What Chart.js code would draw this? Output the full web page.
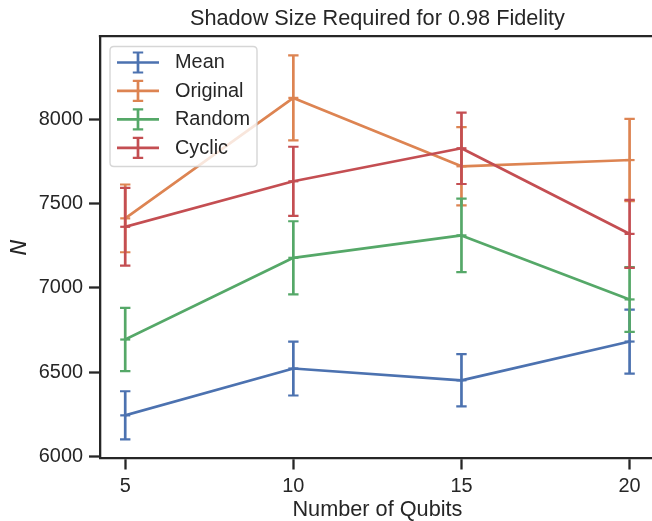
<!DOCTYPE html>
<html>
<head>
<meta charset="utf-8">
<script src="https://cdn.jsdelivr.net/npm/chart.js@4/dist/chart.umd.min.js"></script>
<style>
  html, body { margin: 0; padding: 0; background: #ffffff; overflow: hidden; }
  #clip { width: 652px; height: 521px; overflow: hidden; position: relative; }
  #wrap { width: 662px; height: 521px; position: relative; }
</style>
</head>
<body>
<div id="clip"><div id="wrap"><canvas id="c"></canvas></div></div>
<script>
// ---- data ----
const qubits = [5, 10, 15, 20];
const meanVals = [6243, 6521, 6451, 6681];
const meanErr = [143, 160, 155, 190];
const originalVals = [7412, 8127, 7721, 7758];
const originalErr = [201, 252, 232, 244];
const randomVals = [6693, 7178, 7311, 6931];
const randomErr = [188, 217, 218, 192];
const cyclicVals = [7362, 7632, 7828, 7320];
const cyclicErr = [231, 205, 212, 202];
const seriesNames = ['Mean', 'Original', 'Random', 'Cyclic'];
const xTicks = [5, 10, 15, 20];
const yTicks = [6000, 6500, 7000, 7500, 8000];

const colors = ['#4c72b0', '#dd8452', '#55a868', '#c44e52'];
const textColor = '#262626';
const FONT = "'Liberation Sans', Arial, sans-serif";

function makeSet(i, vals, errs) {
  return {
    label: seriesNames[i],
    data: qubits.map((q, j) => ({ x: q, y: vals[j] })),
    errors: errs,
    borderColor: colors[i],
    backgroundColor: colors[i],
    borderWidth: 2.7,
    borderJoinStyle: 'round',
    borderCapStyle: 'square',
    pointStyle: 'line',
    pointRadius: 5,
    pointBorderWidth: 2.2,
    pointBorderColor: colors[i],
    pointHoverRadius: 5,
    tension: 0,
    fill: false,
    order: 4 - i,
    clip: false
  };
}

const errorBars = {
  id: 'errorBars',
  afterDatasetDraw(chart, args) {
    const ds = chart.data.datasets[args.index];
    const ys = chart.scales.y;
    const ctx = chart.ctx;
    ctx.save();
    ctx.strokeStyle = ds.borderColor;
    args.meta.data.forEach((pt, j) => {
      const v = ds.data[j].y, e = ds.errors[j];
      const yt = ys.getPixelForValue(v + e);
      const yb = ys.getPixelForValue(v - e);
      ctx.lineWidth = 2.7;
      ctx.lineCap = 'butt';
      ctx.beginPath();
      ctx.moveTo(pt.x, yt); ctx.lineTo(pt.x, yb);
      ctx.stroke();
      ctx.lineWidth = 2.2;
      ctx.beginPath();
      ctx.moveTo(pt.x - 5.2, yt); ctx.lineTo(pt.x + 5.2, yt);
      ctx.moveTo(pt.x - 5.2, yb); ctx.lineTo(pt.x + 5.2, yb);
      ctx.stroke();
    });
    ctx.restore();
  }
};

const frameAndLegend = {
  id: 'frameAndLegend',
  afterDraw(chart) {
    const ctx = chart.ctx;
    const a = chart.chartArea;
    ctx.save();
    // top spine (right spine falls outside the visible picture)
    ctx.strokeStyle = textColor;
    ctx.lineWidth = 2.3;
    ctx.beginPath();
    ctx.moveTo(a.left - 1.15, a.top);
    ctx.lineTo(a.right, a.top);
    ctx.stroke();

    // legend box
    const bx = 110, by = 46.5, bw = 147, bh = 120, r = 4;
    ctx.beginPath();
    ctx.moveTo(bx + r, by);
    ctx.lineTo(bx + bw - r, by);
    ctx.quadraticCurveTo(bx + bw, by, bx + bw, by + r);
    ctx.lineTo(bx + bw, by + bh - r);
    ctx.quadraticCurveTo(bx + bw, by + bh, bx + bw - r, by + bh);
    ctx.lineTo(bx + r, by + bh);
    ctx.quadraticCurveTo(bx, by + bh, bx, by + bh - r);
    ctx.lineTo(bx, by + r);
    ctx.quadraticCurveTo(bx, by, bx + r, by);
    ctx.closePath();
    ctx.fillStyle = 'rgba(255,255,255,0.8)';
    ctx.fill();
    ctx.strokeStyle = 'rgba(204,204,204,0.8)';
    ctx.lineWidth = 1.4;
    ctx.stroke();

    chart.data.datasets.forEach((ds, i) => {
      const y = 62.5 + i * 28.45;
      ctx.strokeStyle = ds.borderColor;
      ctx.lineWidth = 2.7;
      ctx.lineCap = 'butt';
      ctx.beginPath();
      ctx.moveTo(117, y); ctx.lineTo(159, y);
      ctx.moveTo(138, y - 10); ctx.lineTo(138, y + 10);
      ctx.stroke();
      ctx.lineWidth = 2.2;
      ctx.beginPath();
      ctx.moveTo(132.8, y - 10); ctx.lineTo(143.2, y - 10);
      ctx.moveTo(132.8, y + 10); ctx.lineTo(143.2, y + 10);
      ctx.stroke();
      ctx.fillStyle = textColor;
      ctx.font = '19.9px ' + FONT;
      ctx.textBaseline = 'middle';
      ctx.textAlign = 'left';
      ctx.fillText(ds.label, 175, y + 0.5);
    });
    ctx.restore();
  }
};

new Chart(document.getElementById('c'), {
  type: 'line',
  data: {
    datasets: [
      makeSet(0, meanVals, meanErr),
      makeSet(1, originalVals, originalErr),
      makeSet(2, randomVals, randomErr),
      makeSet(3, cyclicVals, cyclicErr)
    ]
  },
  options: {
    responsive: true,
    maintainAspectRatio: false,
    animation: false,
    devicePixelRatio: 1,
    layout: { padding: { left: 0, right: 0, top: 0, bottom: 0 } },
    plugins: {
      legend: { display: false },
      tooltip: { enabled: false },
      title: {
        display: true,
        fullSize: false,
        text: 'Shadow Size Required for 0.98 Fidelity',
        color: textColor,
        font: { family: FONT, size: 21.7, weight: 'normal', lineHeight: 1.2 },
        padding: { top: 6, bottom: 4 }
      }
    },
    scales: {
      x: {
        type: 'linear',
        min: 4.25,
        max: 20.75,
        afterBuildTicks(s) { s.ticks = xTicks.map(v => ({ value: v })); },
        afterFit(s) { s.height = 62.5; },
        grid: { drawOnChartArea: false, drawTicks: true, tickLength: 11, tickWidth: 2.3, tickColor: textColor },
        border: { display: true, color: textColor, width: 2.3 },
        ticks: { color: textColor, font: { family: FONT, size: 19.9 }, padding: 5, maxRotation: 0, autoSkip: false,
                 callback: v => String(v) },
        title: {
          display: true,
          text: 'Number of Qubits',
          color: textColor,
          font: { family: FONT, size: 21.7, lineHeight: 1 },
          padding: { top: 0, bottom: 0 }
        }
      },
      y: {
        type: 'linear',
        min: 5987,
        max: 8494,
        afterBuildTicks(s) { s.ticks = yTicks.map(v => ({ value: v })); },
        afterFit(s) { s.width = 100; },
        grid: { drawOnChartArea: false, drawTicks: true, tickLength: 11, tickWidth: 2.3, tickColor: textColor },
        border: { display: true, color: textColor, width: 2.3 },
        ticks: { color: textColor, font: { family: FONT, size: 19.9 }, padding: 6, callback: v => String(v) },
        title: {
          display: true,
          text: 'N',
          color: textColor,
          font: { family: "'DejaVu Sans', sans-serif", size: 21.7, style: 'italic', lineHeight: 1 },
          padding: { top: 10, bottom: 0 }
        }
      }
    }
  },
  plugins: [errorBars, frameAndLegend]
});
</script>
</body>
</html>
